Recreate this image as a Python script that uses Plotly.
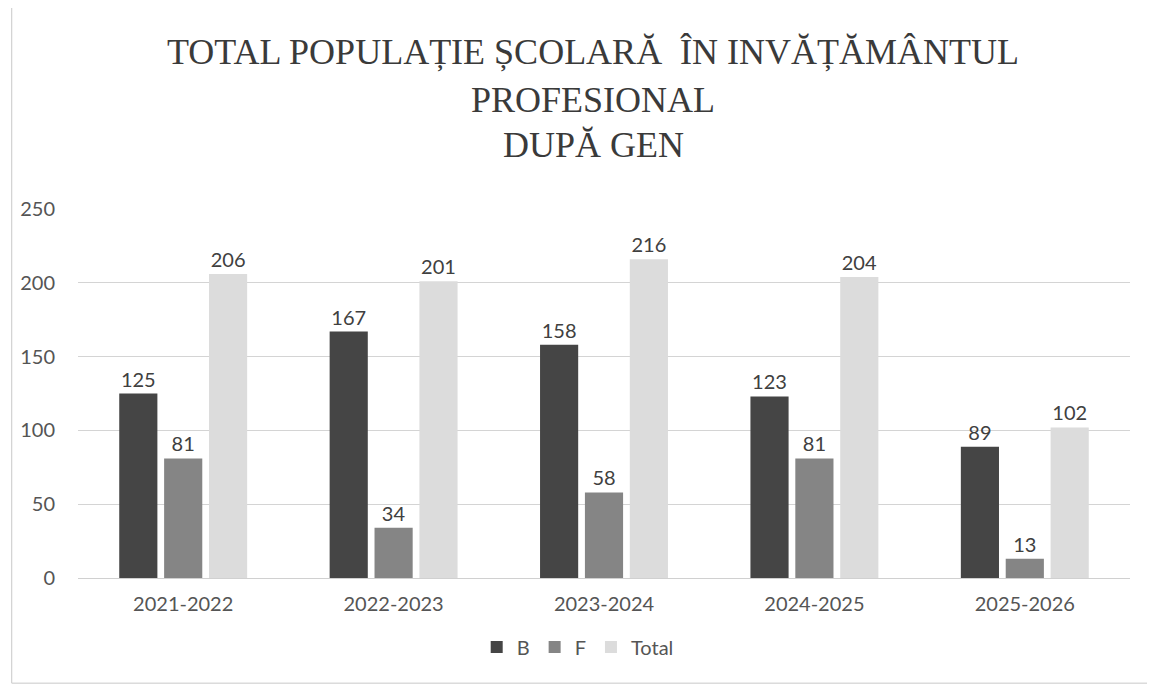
import plotly.graph_objects as go

years = ['2021-2022', '2022-2023', '2023-2024', '2024-2025', '2025-2026']
baieti = [125, 167, 158, 123, 89]
fete = [81, 34, 58, 81, 13]
total = [206, 201, 216, 204, 102]

title_lines = ['TOTAL POPULAȚIE ȘCOLARĂ  ÎN INVĂȚĂMÂNTUL', 'PROFESIONAL', 'DUPĂ GEN']

series = [('B', baieti, '#454545'), ('F', fete, '#858585'), ('Total', total, '#dcdcdc')]
sans = 'Lato, Open Sans, sans-serif'

fig = go.Figure()
for name, vals, col in series:
    fig.add_trace(go.Bar(
        x=years, y=vals, name=name,
        marker=dict(color=col, line=dict(width=0)),
        text=vals, textposition='outside', cliponaxis=False,
        textfont=dict(family=sans, size=20, color='#404040'),
    ))

# title as three separate lines so the spacing can follow the reference
ann = []
for line, yy in zip(title_lines, [1.4255, 1.2954, 1.1734]):
    ann.append(dict(text=line, xref='paper', yref='paper', x=0.49, y=yy,
                    xanchor='center', yanchor='middle', showarrow=False,
                    font=dict(family='Liberation Serif, Times New Roman, serif', size=36, color='#3a3a3a')))

fig.update_layout(
    width=1147, height=683,
    annotations=ann,
    barmode='group', bargap=0.36, bargroupgap=0.15,
    plot_bgcolor='white', paper_bgcolor='white',
    margin=dict(l=64, r=25, t=201, b=113),
    font=dict(family=sans, size=20, color='#555555'),
    showlegend=True,
    legend=dict(orientation='h', x=0.475, xanchor='center', y=-0.187, yanchor='middle',
                font=dict(size=20, color='#555555'), traceorder='normal'),
    xaxis=dict(showgrid=False, showline=True, linecolor='#d0d0d0', ticks='', ticklabelstandoff=8,
               tickfont=dict(size=20, color='#555555')),
    yaxis=dict(range=[0, 250], dtick=50, showgrid=True, gridcolor='#d4d4d4', gridwidth=1,
               zeroline=False, showline=False, ticklabelstandoff=22,
               tickfont=dict(size=20, color='#555555')),
    shapes=[dict(type='rect', xref='paper', yref='paper', x0=-0.063, x1=1.019, y0=-0.285, y1=1.553,
                 line=dict(color='#c8c8c8', width=1))],
)

fig.write_html('out.html')
